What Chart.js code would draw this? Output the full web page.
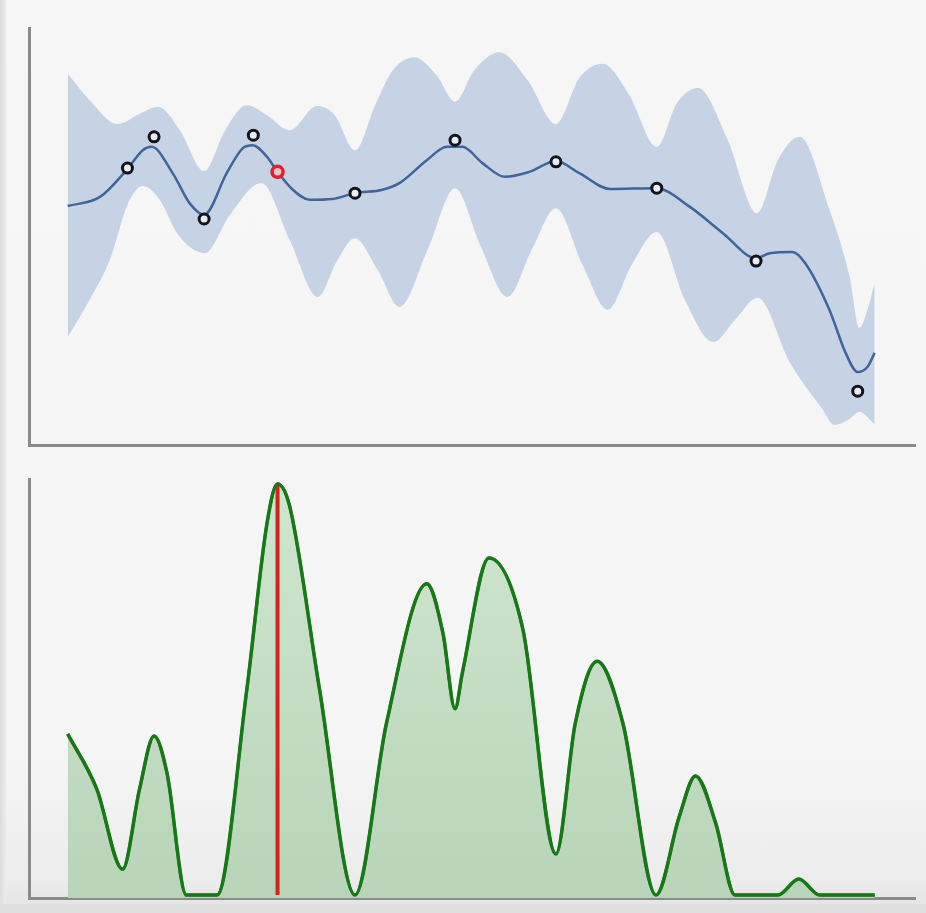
<!DOCTYPE html>
<html>
<head>
<meta charset="utf-8">
<script src="https://cdn.jsdelivr.net/npm/chart.js@4.4.1/dist/chart.umd.min.js"></script>
<style>
  html, body { margin: 0; padding: 0; }
  body {
    width: 926px; height: 913px; position: relative; overflow: hidden;
    background: linear-gradient(to bottom, #f6f6f6 0px, #f5f5f5 760px, #ececec 880px, #e2e2e2 913px);
  }
  .edge-left { position: absolute; left: 0; top: 0; width: 6px; height: 913px;
    background: linear-gradient(to right, #dcdcdc, #ebebeb); }
  .edge-bottom { position: absolute; left: 0; top: 904px; width: 926px; height: 9px; background: #dedede; }
  .panel { position: absolute; left: 0; }
  #gpPanel { top: 0; }
  #acqPanel { top: 456px; }
</style>
</head>
<body>
<div class="edge-left"></div>
<div class="edge-bottom"></div>
<div class="panel" id="gpPanel"><canvas id="gp" width="926" height="456"></canvas></div>
<div class="panel" id="acqPanel"><canvas id="acq" width="926" height="457"></canvas></div>
<script>
// Gaussian-process posterior: mean curve
const meanX = [0.00, 0.40, 0.74, 0.93, 1.04, 1.30, 1.51, 1.69, 1.97, 2.17, 2.29, 2.47, 2.60, 2.79, 3.00, 3.28, 3.56, 3.90, 4.11, 4.45, 4.70, 4.89, 5.14, 5.42, 5.72, 6.05, 6.34, 6.72, 7.29, 7.71, 8.12, 8.53, 8.70, 8.98, 9.14, 9.44, 9.64, 9.79, 9.91, 10.00];
const meanY = [5.73, 5.95, 6.62, 7.07, 7.15, 6.52, 5.80, 5.52, 6.52, 7.12, 7.19, 6.91, 6.55, 6.12, 5.88, 5.90, 6.04, 6.12, 6.28, 6.83, 7.15, 7.15, 6.76, 6.43, 6.55, 6.81, 6.52, 6.14, 6.16, 5.71, 5.08, 4.48, 4.60, 4.63, 4.36, 3.24, 2.21, 1.75, 1.87, 2.21];

// Upper edge of the confidence band
const upperX = [0.00, 0.27, 0.62, 0.89, 1.12, 1.39, 1.69, 1.95, 2.22, 2.47, 2.75, 3.09, 3.31, 3.56, 3.81, 4.03, 4.30, 4.57, 4.80, 5.04, 5.35, 5.70, 6.05, 6.34, 6.63, 6.96, 7.30, 7.55, 7.81, 8.18, 8.54, 8.80, 9.07, 9.44, 9.69, 9.81, 9.91, 10.00];
const upperY = [8.90, 8.27, 7.70, 7.94, 8.11, 7.55, 6.57, 7.55, 8.15, 7.91, 7.55, 8.13, 7.91, 7.07, 8.15, 8.99, 9.30, 8.87, 8.23, 8.99, 9.42, 8.75, 7.70, 8.80, 9.14, 8.39, 7.15, 8.20, 8.56, 7.31, 5.56, 6.83, 7.39, 5.64, 4.03, 2.81, 3.24, 3.88];

// Lower edge of the confidence band
const lowerX = [0.00, 0.27, 0.53, 0.74, 0.93, 1.14, 1.36, 1.70, 2.01, 2.40, 2.75, 3.10, 3.33, 3.56, 3.84, 4.11, 4.46, 4.80, 5.11, 5.45, 5.75, 6.05, 6.38, 6.69, 6.99, 7.30, 7.65, 8.00, 8.27, 8.55, 8.95, 9.36, 9.50, 9.67, 9.81, 10.00];
const lowerY = [2.59, 3.48, 4.48, 5.76, 6.21, 5.88, 5.06, 4.60, 5.52, 6.28, 4.92, 3.55, 4.39, 4.96, 4.20, 3.31, 4.68, 6.16, 4.80, 3.55, 4.68, 5.68, 4.32, 3.24, 4.32, 5.11, 3.48, 2.47, 3.00, 3.53, 1.97, 0.84, 0.48, 0.60, 0.79, 0.50];

// Observed samples
const obsX = [0.74, 1.07, 1.69, 2.30, 3.56, 4.80, 6.05, 7.30, 8.53, 9.79];
const obsY = [6.64, 7.39, 5.42, 7.43, 6.04, 7.31, 6.79, 6.16, 4.41, 1.29];

// Next point proposed by the acquisition function
const nextX = 2.60;
const nextY = 6.55;

// Acquisition function
const acqX = [0.00, 0.36, 0.68, 0.89, 1.07, 1.23, 1.47, 1.66, 1.85, 2.22, 2.47, 2.60, 2.75, 3.12, 3.56, 3.95, 4.45, 4.65, 4.80, 4.89, 5.22, 5.64, 6.05, 6.29, 6.56, 6.88, 7.29, 7.58, 7.78, 8.03, 8.27, 8.80, 9.06, 9.32, 10.00];
const acqY = [0.392, 0.258, 0.063, 0.258, 0.387, 0.297, 0.000, 0.000, 0.000, 0.501, 0.905, 1.000, 0.946, 0.501, 0.000, 0.418, 0.757, 0.637, 0.453, 0.540, 0.820, 0.647, 0.100, 0.418, 0.569, 0.418, 0.000, 0.192, 0.290, 0.175, 0.000, 0.000, 0.039, 0.000, 0.000];
const acqMax = 1.000;

const pts = (xs, ys) => xs.map((x, i) => ({ x, y: ys[i] }));

const axisColor = '#8a8a8a';
const hiddenAxis = (min, max) => ({
  type: 'linear', min, max,
  grid: { display: false, drawTicks: false, tickLength: 0 },
  ticks: { display: false, padding: 0 },
  border: { display: true, color: axisColor, width: 3 }
});

const baseOptions = (padding, xMin, xMax, yMin, yMax) => ({
  responsive: false,
  animation: false,
  devicePixelRatio: 1,
  layout: { padding },
  plugins: { legend: { display: false }, tooltip: { enabled: false } },
  events: [],
  scales: { x: hiddenAxis(xMin, xMax), y: hiddenAxis(yMin, yMax) }
});

// Upper panel: posterior mean, confidence band and samples
new Chart(document.getElementById('gp'), {
  type: 'line',
  data: {
    datasets: [
      {
        data: pts(upperX, upperY), order: 5,
        borderWidth: 0, pointRadius: 0, cubicInterpolationMode: 'monotone',
        fill: 1, backgroundColor: 'rgba(198, 211, 228, 1)'
      },
      {
        data: pts(lowerX, lowerY), order: 4,
        borderWidth: 0, pointRadius: 0, cubicInterpolationMode: 'monotone', fill: false
      },
      {
        data: pts(meanX, meanY), order: 3,
        borderColor: '#40659a', borderWidth: 2.5, pointRadius: 0,
        cubicInterpolationMode: 'monotone', fill: false
      },
      {
        type: 'scatter', data: pts(obsX, obsY), order: 1,
        pointRadius: 5, pointBorderWidth: 3,
        pointBorderColor: '#111418', pointBackgroundColor: '#e9edf3', showLine: false
      },
      {
        type: 'scatter', data: [{ x: nextX, y: nextY }], order: 0,
        pointRadius: 5.5, pointBorderWidth: 3.5,
        pointBorderColor: '#e0202e', pointBackgroundColor: '#f4c4c8', showLine: false
      }
    ]
  },
  options: baseOptions({ left: 29, right: 11, top: 28, bottom: 11 }, -0.48, 10.50, 0, 10)
});

// Lower panel: acquisition function with its maximum marked
new Chart(document.getElementById('acq'), {
  type: 'line',
  data: {
    datasets: [
      {
        data: pts(acqX, acqY), order: 2,
        borderColor: '#177d17', borderWidth: 3.5, pointRadius: 0,
        cubicInterpolationMode: 'monotone',
        fill: 'start',
        backgroundColor: (ctx) => {
          const area = ctx.chart.chartArea;
          if (!area) return '#c4dec4';
          const g = ctx.chart.ctx.createLinearGradient(0, area.top, 0, area.bottom);
          g.addColorStop(0, '#cfe6cf');
          g.addColorStop(1, '#b9d4b9');
          return g;
        }
      },
      {
        data: [{ x: nextX, y: 0 }, { x: nextX, y: acqMax }], order: 1,
        borderColor: '#d0241c', borderWidth: 4, pointRadius: 0, fill: false
      },
      {
        // thin bright rim along the acquisition curve
        data: pts(acqX, acqY), order: 0,
        borderColor: 'rgba(24, 120, 24, 0.9)', borderWidth: 3, pointRadius: 0,
        cubicInterpolationMode: 'monotone', fill: false
      }
    ]
  },
  options: baseOptions({ left: 29, right: 11, top: 23, bottom: 15 }, -0.48, 10.50, -0.007, 1.012)
});
</script>
</body>
</html>
